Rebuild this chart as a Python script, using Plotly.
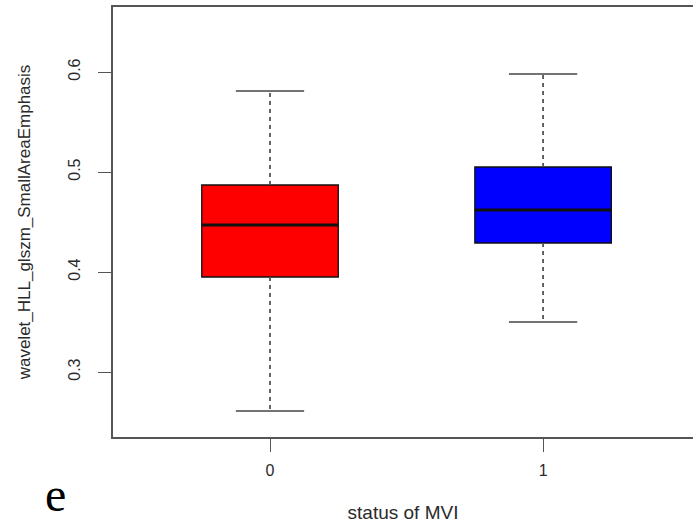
import plotly.graph_objects as go

# ---- data ----
groups = ["0", "1"]
lower_whisker = [0.261, 0.350]
q1 = [0.395, 0.429]
median = [0.447, 0.462]
q3 = [0.487, 0.505]
upper_whisker = [0.581, 0.598]
fill_colors = ["#FF0000", "#0000FF"]

y_ticks = [0.3, 0.4, 0.5, 0.6]

BOX_W = 0.5
CAP_W = 0.25
AXIS_COL = "#555555"
TXT_COL = "#2a2a2a"
FONT = "Liberation Sans, Arial, sans-serif"

fig = go.Figure()

for i, g in enumerate(groups):
    # dashed whiskers
    fig.add_trace(go.Scatter(
        x=[i, i, None, i, i],
        y=[q3[i], upper_whisker[i], None, q1[i], lower_whisker[i]],
        mode="lines", line=dict(color="#555555", width=1.8, dash="4px,4px"),
        hoverinfo="skip", showlegend=False))
    # caps
    fig.add_trace(go.Scatter(
        x=[i - CAP_W / 2, i + CAP_W / 2, None, i - CAP_W / 2, i + CAP_W / 2],
        y=[upper_whisker[i], upper_whisker[i], None, lower_whisker[i], lower_whisker[i]],
        mode="lines", line=dict(color="#444444", width=1.6),
        hoverinfo="skip", showlegend=False))
    # box
    fig.add_trace(go.Box(
        x=[i], q1=[q1[i]], median=[median[i]], q3=[q3[i]],
        lowerfence=[q1[i]], upperfence=[q3[i]],
        width=BOX_W, fillcolor=fill_colors[i],
        line=dict(color="#111111", width=1.3),
        whiskerwidth=0, boxpoints=False, name=g, showlegend=False))
    # thick median
    fig.add_trace(go.Scatter(
        x=[i - BOX_W / 2, i + BOX_W / 2], y=[median[i], median[i]],
        mode="lines", line=dict(color="#111111", width=3.2),
        hoverinfo="skip", showlegend=False))

fig.update_layout(
    width=693, height=524,
    margin=dict(l=113, r=0, t=7, b=87),
    paper_bgcolor="white", plot_bgcolor="white",
    font=dict(family=FONT, size=16, color=TXT_COL),
    xaxis=dict(
        range=[-0.575, 1.549], tickmode="array",
        tickvals=list(range(len(groups))), ticktext=groups,
        showgrid=False, zeroline=False,
        showline=True, linecolor=AXIS_COL, linewidth=1.6, mirror=True,
        ticks="outside", ticklen=13, tickcolor=AXIS_COL, tickwidth=1.4,
        ticklabelstandoff=5,
        tickfont=dict(size=16, color=TXT_COL),
        title=dict(text="status of MVI", font=dict(size=19, color=TXT_COL), standoff=28),
    ),
    yaxis=dict(
        range=[0.235, 0.665], tickmode="array",
        tickvals=y_ticks, ticktext=[f"{v:.1f}" for v in y_ticks],
        showgrid=False, zeroline=False,
        showline=True, linecolor=AXIS_COL, linewidth=1.6, mirror=False,
        ticks="outside", ticklen=13, tickcolor=AXIS_COL, tickwidth=1.4,
        tickangle=-90, ticklabelstandoff=12,
        tickfont=dict(size=16, color=TXT_COL),
        title=dict(text="wavelet_HLL_glszm_SmallAreaEmphasis",
                   font=dict(size=17, color=TXT_COL), standoff=31),
    ),
    annotations=[dict(
        text="e", xref="paper", yref="paper", x=-0.099, y=-0.198,
        xanchor="center", yanchor="bottom", showarrow=False, borderpad=0,
        font=dict(family="Liberation Serif, Times New Roman, serif", size=48, color="black"))],
)

fig.write_html("out.html")
